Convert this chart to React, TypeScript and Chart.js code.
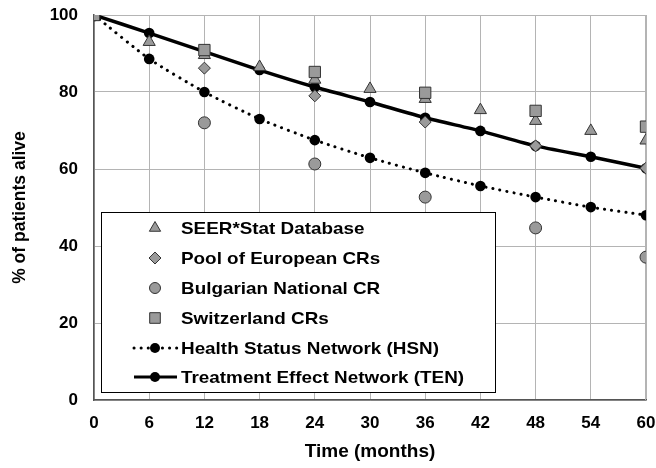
import React, { useEffect, useRef } from "react";
import { Chart, registerables } from "chart.js";

Chart.register(...registerables);

const months = [0, 6, 12, 18, 24, 30, 36, 42, 48, 54, 60];
const seerMonths = [0, 6, 12, 18, 24, 30, 36, 42, 48, 54, 60];
const seerValues = [100, 93, 89.6, 86.5, 83.2, 80.8, 78.2, 75.3, 72.5, 69.9, 67.4];
const poolMonths = [0, 12, 24, 36, 48, 60];
const poolValues = [100, 86.2, 79, 72.2, 66, 60.2];
const bulgMonths = [0, 12, 24, 36, 48, 60];
const bulgValues = [100, 72, 61.3, 52.7, 44.7, 37.1];
const swissMonths = [0, 12, 24, 36, 48, 60];
const swissValues = [100, 90.9, 85.2, 79.8, 75.1, 71];
const hsnValues = [100, 88.6, 80, 73, 67.5, 62.9, 59, 55.6, 52.7, 50.1, 48];
const tenValues = [100, 95.3, 90.5, 85.7, 81.3, 77.4, 73.3, 69.9, 66, 63.2, 60.2];
const yTicks = [0, 20, 40, 60, 80, 100];

const legendLabels = [
  "SEER*Stat Database",
  "Pool of European CRs",
  "Bulgarian National CR",
  "Switzerland CRs",
  "Health Status Network (HSN)",
  "Treatment Effect Network (TEN)",
];

const FONT = "'Liberation Sans', Arial, Helvetica, sans-serif";
const GRAY = "#9a9a9a";
const EDGE = "#333333";

const pts = (xs: number[], ys: number[]) => xs.map((x, i) => ({ x, y: ys[i] }));

function drawShape(ctx: CanvasRenderingContext2D, style: string, r: number, x: number, y: number) {
  ctx.beginPath();
  if (style === "triangle") {
    ctx.moveTo(x, y - r);
    ctx.lineTo(x + r * 0.866, y + r * 0.5);
    ctx.lineTo(x - r * 0.866, y + r * 0.5);
    ctx.closePath();
  } else if (style === "rectRot") {
    ctx.moveTo(x, y - r);
    ctx.lineTo(x + r, y);
    ctx.lineTo(x, y + r);
    ctx.lineTo(x - r, y);
    ctx.closePath();
  } else if (style === "circle") {
    ctx.arc(x, y, r, 0, Math.PI * 2);
  } else {
    const s = r * Math.SQRT1_2;
    ctx.rect(x - s, y - s, 2 * s, 2 * s);
  }
  ctx.fill();
  ctx.stroke();
}

const legendPlugin = {
  id: "customLegend",
  afterDraw(chart: any) {
    const ctx = chart.ctx;
    const left = 101, top = 212, right = 495, bottom = 392;
    ctx.save();
    ctx.fillStyle = "#ffffff";
    ctx.fillRect(left, top, right - left, bottom - top);
    ctx.strokeStyle = "#000000";
    ctx.lineWidth = 1;
    ctx.strokeRect(left + 0.5, top + 0.5, right - left, bottom - top);
    const rowY = [228, 258, 288, 318, 348, 377];
    const mx = 155;
    const styles = ["triangle", "rectRot", "circle", "rect"];
    const radii = [6.5, 6, 5.5, 7.5];
    for (let i = 0; i < 6; i++) {
      const y = rowY[i];
      if (i < 4) {
        ctx.fillStyle = GRAY;
        ctx.strokeStyle = EDGE;
        ctx.lineWidth = 1;
        drawShape(ctx, styles[i], radii[i], mx, y);
      } else {
        ctx.strokeStyle = "#000";
        ctx.lineWidth = 3;
        ctx.beginPath();
        if (i === 4) {
          ctx.setLineDash([0.1, 7]);
          ctx.lineCap = "round";
        } else {
          ctx.setLineDash([]);
          ctx.lineCap = "butt";
        }
        ctx.moveTo(134, y);
        ctx.lineTo(177, y);
        ctx.stroke();
        ctx.setLineDash([]);
        ctx.fillStyle = "#000";
        ctx.beginPath();
        ctx.arc(mx, y, 5, 0, Math.PI * 2);
        ctx.fill();
      }
      ctx.save();
      ctx.translate(181, y + 1);
      ctx.scale(1.11, 1);
      ctx.fillStyle = "#000";
      ctx.font = `bold 17px ${FONT}`;
      ctx.textBaseline = "middle";
      ctx.textAlign = "left";
      ctx.fillText(legendLabels[i], 0, 0);
      ctx.restore();
    }
    ctx.restore();
  },
};

const framePlugin = {
  id: "frame",
  beforeDatasetsDraw(c: any) {
    const { ctx, chartArea } = c;
    ctx.save();
    ctx.strokeStyle = "#b4b4b4";
    ctx.lineWidth = 1;
    ctx.beginPath();
    ctx.moveTo(chartArea.left, chartArea.top + 0.5);
    ctx.lineTo(chartArea.right - 0.5, chartArea.top + 0.5);
    ctx.lineTo(chartArea.right - 0.5, chartArea.bottom);
    ctx.stroke();
    ctx.restore();
  },
};

export default function App() {
  const ref = useRef<HTMLCanvasElement>(null);
  useEffect(() => {
    document.body.style.margin = "0";
    const canvas = ref.current!;
    const scatterBase = {
      type: "scatter" as const,
      backgroundColor: GRAY,
      borderColor: EDGE,
      borderWidth: 1,
      showLine: false,
    };
    const chart = new Chart(canvas, {
      type: "scatter",
      data: {
        datasets: [
          { ...scatterBase, label: legendLabels[3], data: pts(swissMonths, swissValues), pointStyle: "rect", pointRadius: 8 },
          { ...scatterBase, label: legendLabels[0], data: pts(seerMonths, seerValues), pointStyle: "triangle", pointRadius: 7 },
          { ...scatterBase, label: legendLabels[1], data: pts(poolMonths, poolValues), pointStyle: "rectRot", pointRadius: 6 },
          { ...scatterBase, label: legendLabels[2], data: pts(bulgMonths, bulgValues), pointStyle: "circle", pointRadius: 6 },
          {
            type: "line",
            label: legendLabels[4],
            data: pts(months, hsnValues),
            borderColor: "#000",
            backgroundColor: "#000",
            borderWidth: 3,
            borderDash: [0.1, 7],
            borderCapStyle: "round",
            pointRadius: 5.3,
            pointBorderWidth: 0,
            tension: 0.2,
          },
          {
            type: "line",
            label: legendLabels[5],
            data: pts(months, tenValues),
            borderColor: "#000",
            backgroundColor: "#000",
            borderWidth: 3.5,
            pointRadius: 5.3,
            pointBorderWidth: 0,
            tension: 0.2,
          },
        ] as any,
      },
      options: {
        animation: false,
        responsive: false,
        layout: { padding: { left: 0, right: 10, top: 15, bottom: 0 } },
        plugins: { legend: { display: false }, tooltip: { enabled: false } },
        scales: {
          x: {
            type: "linear",
            min: 0,
            max: 60,
            afterFit: (s: any) => {
              s.height = 68;
              s.paddingLeft = 0;
              s.paddingRight = 0;
            },
            afterBuildTicks: (s: any) => { s.ticks = months.map((v) => ({ value: v })); },
            ticks: { color: "#000", font: { family: FONT, size: 17, weight: "bold" }, padding: 13 },
            grid: { color: "#b4b4b4", lineWidth: 1, drawTicks: false },
            border: { color: "#555", width: 1.5 },
            title: {
              display: true,
              text: "Time (months)",
              color: "#000",
              font: { family: FONT, size: 19, weight: "bold" },
              padding: { top: 0, bottom: 5 },
            },
          },
          y: {
            min: 0,
            max: 100,
            afterFit: (s: any) => {
              s.width = 94;
              s.paddingTop = 0;
              s.paddingBottom = 0;
            },
            afterBuildTicks: (s: any) => { s.ticks = yTicks.map((v) => ({ value: v })); },
            ticks: { color: "#000", font: { family: FONT, size: 17, weight: "bold" }, padding: 16 },
            grid: { color: "#b4b4b4", lineWidth: 1, drawTicks: false },
            border: { color: "#555", width: 1.5 },
            title: {
              display: true,
              text: "% of patients alive",
              color: "#000",
              font: { family: FONT, size: 17.5, weight: "bold" },
              padding: { top: 10, bottom: 0 },
            },
          },
        },
      },
      plugins: [legendPlugin, framePlugin],
    });
    return () => chart.destroy();
  }, []);
  return <canvas ref={ref} width={656} height={468} style={{ display: "block" }} />;
}
